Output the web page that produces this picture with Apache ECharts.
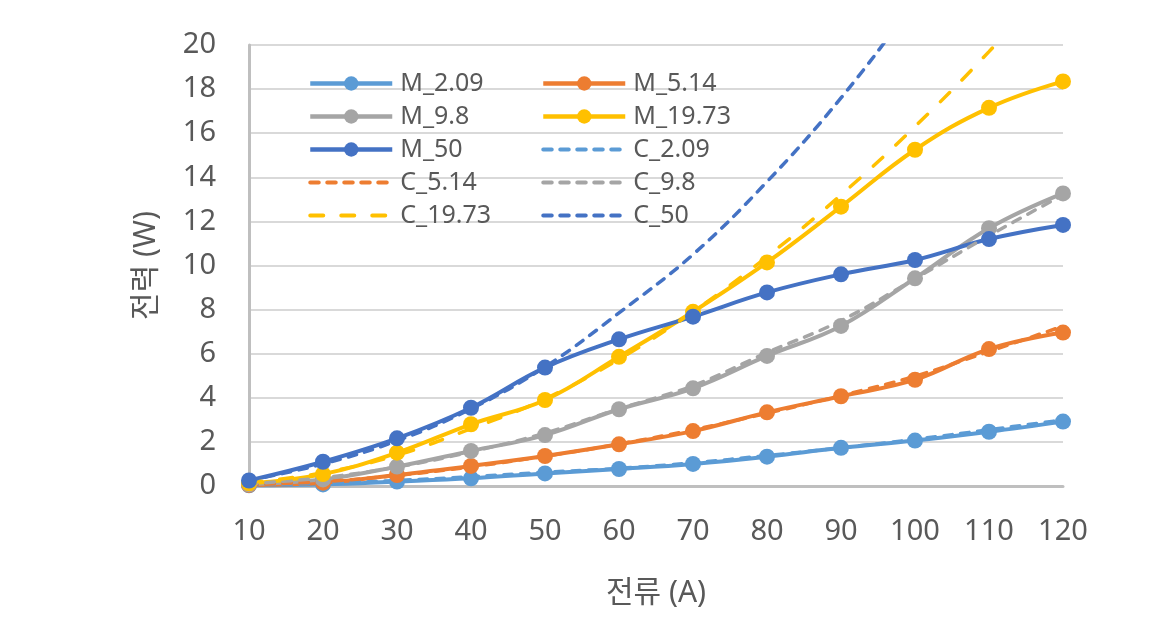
<!DOCTYPE html>
<html>
<head>
<meta charset="utf-8">
<script src="https://cdn.jsdelivr.net/npm/echarts@6/dist/echarts.min.js"></script>
<style>html,body{margin:0;padding:0;background:#fff;}#c{width:1153px;height:640px;}</style>
</head>
<body>
<div id="c"></div>
<script>
const categories = ['10','20','30','40','50','60','70','80','90','100','110','120'];
const M_2_09  = [0.03, 0.07, 0.20, 0.35, 0.57, 0.77, 1.00, 1.33, 1.73, 2.06, 2.46, 2.92];
const M_5_14  = [0.05, 0.15, 0.50, 0.91, 1.36, 1.89, 2.49, 3.34, 4.07, 4.82, 6.21, 6.96];
const M_9_8   = [0.08, 0.30, 0.88, 1.59, 2.31, 3.48, 4.43, 5.90, 7.26, 9.42, 11.69, 13.27];
const M_19_73 = [0.12, 0.54, 1.51, 2.80, 3.90, 5.86, 7.90, 10.14, 12.67, 15.25, 17.15, 18.35];
const M_50    = [0.25, 1.10, 2.16, 3.55, 5.37, 6.65, 7.68, 8.78, 9.60, 10.25, 11.20, 11.84];
const C_2_09  = [0.04, 0.12, 0.25, 0.42, 0.62, 0.80, 1.05, 1.38, 1.73, 2.12, 2.55, 3.00];
const C_5_14  = [0.06, 0.20, 0.48, 0.87, 1.35, 1.90, 2.55, 3.30, 4.10, 4.98, 6.10, 7.25];
const C_9_8   = [0.10, 0.38, 0.86, 1.55, 2.40, 3.50, 4.55, 6.05, 7.50, 9.40, 11.35, 13.20];
const C_19_73 = [0.15, 0.60, 1.40, 2.60, 3.95, 5.75, 7.90, 10.40, 13.20, 16.30, 19.70, 23.40];
const C_50    = [0.25, 1.00, 2.05, 3.50, 5.40, 7.85, 10.50, 13.80, 17.60, 22.00, 26.80, 32.00];
const yTicks = {min: 0, max: 20, interval: 2};

const FONT = "'Noto Sans', 'Noto Sans CJK KR', sans-serif";
const TXT = '#595959';
const colors = {
  'M_2.09': '#5B9BD5', 'M_5.14': '#ED7D31', 'M_9.8': '#A5A5A5', 'M_19.73': '#FFC000', 'M_50': '#4472C4',
  'C_2.09': '#5B9BD5', 'C_5.14': '#ED7D31', 'C_9.8': '#A5A5A5', 'C_19.73': '#FFC000', 'C_50': '#4472C4'
};
const shortDash = [8.5, 8.5];
const longDash = [13, 18];
const dashes = {'C_2.09': shortDash, 'C_5.14': shortDash, 'C_9.8': shortDash, 'C_19.73': longDash, 'C_50': shortDash};

function mSeries(name, data) {
  const color = colors[name];
  return {
    name, type: 'line', data, smooth: 0.4,
    symbol: 'circle', symbolSize: 16, showSymbol: true,
    itemStyle: {color},
    lineStyle: {color, width: 4},
    emphasis: {disabled: true}, animation: false
  };
}
function cSeries(name, data) {
  const color = colors[name];
  return {
    name, type: 'line', data, smooth: 0.4,
    symbol: 'none',
    itemStyle: {color},
    lineStyle: {color, width: 3.5, type: dashes[name], cap: 'round'},
    emphasis: {disabled: true}, animation: false
  };
}

const series = [
  mSeries('M_2.09', M_2_09),
  mSeries('M_5.14', M_5_14),
  mSeries('M_9.8', M_9_8),
  mSeries('M_19.73', M_19_73),
  mSeries('M_50', M_50),
  cSeries('C_2.09', C_2_09),
  cSeries('C_5.14', C_5_14),
  cSeries('C_9.8', C_9_8),
  cSeries('C_19.73', C_19_73),
  cSeries('C_50', C_50)
];

function legendItem(n) {
  if (n.startsWith('C_')) {
    return {name: n, itemStyle: {opacity: 0},
      lineStyle: {color: colors[n], width: 4, type: dashes[n], cap: 'round'}};
  }
  return {name: n, lineStyle: {color: colors[n], width: 4.5}};
}
function legend(left, names) {
  return {
    orient: 'vertical', left, top: 71, padding: 0,
    itemWidth: 82, itemHeight: 18, itemGap: 8,
    selectedMode: false,
    textStyle: {fontFamily: FONT, fontSize: 25, color: TXT, padding: [0, 0, 0, 3]},
    data: names.map(legendItem)
  };
}

const chart = echarts.init(document.getElementById('c'));
chart.setOption({
  backgroundColor: '#fff',
  animation: false,
  grid: {left: 249, right: 90, top: 45, bottom: 154, containLabel: false},
  legend: [
    legend(308, ['M_2.09', 'M_9.8', 'M_50', 'C_5.14', 'C_19.73']),
    legend(541, ['M_5.14', 'M_19.73', 'C_2.09', 'C_9.8', 'C_50'])
  ],
  xAxis: {
    type: 'category', data: categories, boundaryGap: false,
    axisLine: {show: true, lineStyle: {color: '#BFBFBF', width: 3}},
    axisTick: {show: false},
    axisLabel: {fontFamily: FONT, fontSize: 29, color: TXT, margin: 31},
    splitLine: {show: false},
    name: '전류 (A)', nameLocation: 'middle', nameGap: 92,
    nameTextStyle: {fontFamily: FONT, fontSize: 30, color: TXT}
  },
  yAxis: {
    type: 'value', min: yTicks.min, max: yTicks.max, interval: yTicks.interval,
    axisLine: {show: true, lineStyle: {color: '#BFBFBF', width: 3}},
    axisTick: {show: false},
    axisLabel: {fontFamily: FONT, fontSize: 29, color: TXT, margin: 33},
    splitLine: {show: true, lineStyle: {color: '#D9D9D9', width: 2}},
    name: '전력 (W)', nameLocation: 'middle', nameGap: 88,
    nameTextStyle: {fontFamily: FONT, fontSize: 30, color: TXT}
  },
  series
});
</script>
</body>
</html>
